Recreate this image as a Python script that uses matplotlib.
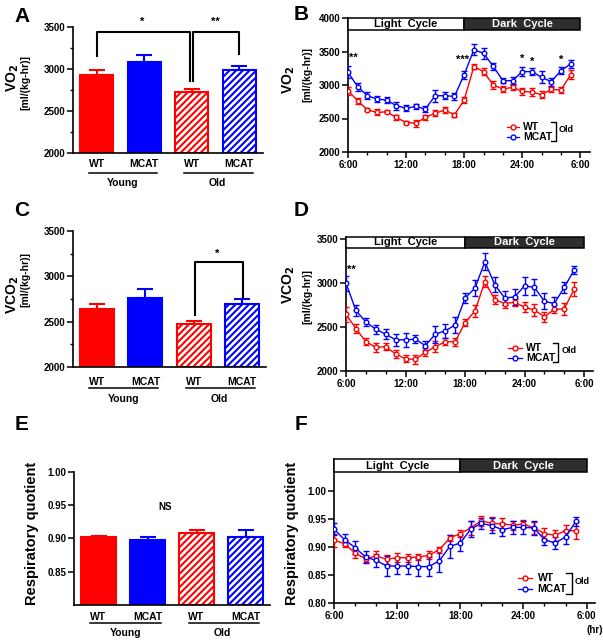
import matplotlib
matplotlib.use("Agg")
import matplotlib.pyplot as plt
from matplotlib.patches import Rectangle
from matplotlib.lines import Line2D
from matplotlib.transforms import offset_copy
from matplotlib.ticker import MultipleLocator

plt.rcParams['font.family'] = ['Liberation Sans', 'DejaVu Sans']
plt.rcParams['font.weight'] = 'bold'
plt.rcParams['hatch.linewidth'] = 1.5
plt.rcParams['axes.linewidth'] = 1.2

RED = '#ff0000'
BLUE = '#0000ff'

# bar panels
groups = ['WT', 'MCAT', 'WT', 'MCAT']
ages = ['Young', 'Old']
vo2_mean = [2928, 3080, 2730, 2988]
vo2_err = [56, 87, 27, 48]
vco2_mean = [2640, 2766, 2478, 2700]
vco2_err = [54, 97, 30, 55]
rq_mean = [0.902, 0.897, 0.908, 0.903]
rq_err = [0.002, 0.006, 0.005, 0.010]

# time course panels (hour of day, 6:00 -> 5:00 next day)
hours = [6, 7, 8, 9, 10, 11, 12, 13, 14, 15, 16, 17,
         18, 19, 20, 21, 22, 23, 24, 25, 26, 27, 28, 29]
hour_ticks = [6, 12, 18, 24, 30]
hour_labels = ['6:00', '12:00', '18:00', '24:00', '6:00']

vo2_wt = [2915, 2765, 2630, 2590, 2600, 2515, 2440, 2430, 2515, 2580, 2625, 2555,
          2775, 3275, 3200, 3000, 2940, 2965, 2905, 2895, 2855, 2935, 2925, 3155]
vo2_wt_err = [60, 45, 25, 45, 25, 35, 25, 50, 35, 40, 40, 30,
              40, 40, 50, 60, 45, 35, 50, 55, 50, 40, 50, 70]
vo2_mcat = [3190, 2975, 2840, 2790, 2775, 2690, 2655, 2680, 2640, 2840, 2840, 2830,
            3155, 3525, 3475, 3280, 3065, 3065, 3200, 3200, 3115, 3050, 3215, 3315]
vo2_mcat_err = [90, 60, 50, 45, 40, 60, 50, 35, 40, 90, 55, 50,
                60, 80, 80, 50, 40, 50, 70, 50, 90, 60, 50, 60]

vco2_wt = [2642, 2481, 2332, 2269, 2276, 2194, 2138, 2131, 2213, 2276, 2332, 2332,
           2549, 2679, 3015, 2810, 2765, 2780, 2724, 2690, 2616, 2698, 2705, 2929]
vco2_wt_err = [85, 55, 40, 50, 40, 45, 40, 55, 45, 60, 40, 45,
               40, 70, 60, 50, 50, 40, 60, 65, 55, 45, 70, 80]
vco2_mcat = [2996, 2687, 2556, 2474, 2418, 2354, 2354, 2362, 2287, 2418, 2455, 2522,
             2828, 2940, 3239, 2978, 2828, 2840, 2966, 2948, 2791, 2765, 2948, 3146]
vco2_mcat_err = [85, 60, 50, 50, 55, 70, 80, 50, 50, 95, 80, 90,
                 60, 90, 95, 85, 85, 90, 100, 90, 90, 70, 60, 50]

rq_wt = [0.912, 0.906, 0.889, 0.879, 0.884, 0.878, 0.881, 0.881, 0.882, 0.885, 0.895, 0.916,
         0.924, 0.934, 0.947, 0.942, 0.941, 0.939, 0.941, 0.934, 0.924, 0.921, 0.929, 0.929]
rq_wt_err = [0.012, 0.006, 0.008, 0.006, 0.008, 0.008, 0.008, 0.007, 0.006, 0.007, 0.005, 0.006,
             0.007, 0.012, 0.009, 0.012, 0.010, 0.008, 0.007, 0.010, 0.010, 0.010, 0.011, 0.015]
rq_mcat = [0.932, 0.913, 0.899, 0.882, 0.876, 0.866, 0.866, 0.866, 0.865, 0.865, 0.875, 0.901,
           0.907, 0.932, 0.942, 0.938, 0.931, 0.935, 0.935, 0.934, 0.913, 0.907, 0.918, 0.946]
rq_mcat_err = [0.010, 0.010, 0.012, 0.010, 0.012, 0.017, 0.015, 0.014, 0.016, 0.017, 0.020, 0.020,
               0.015, 0.015, 0.010, 0.013, 0.012, 0.011, 0.012, 0.013, 0.010, 0.010, 0.012, 0.008]

W, H = 603, 644
fig = plt.figure(figsize=(W / 100, H / 100), dpi=100)


def px_axes(l, t, r, b):
    return fig.add_axes([l / W, 1 - b / H, (r - l) / W, (b - t) / H])


def ftext(x, y, s, **kw):
    fig.text(x / W, 1 - y / H, s, **kw)


def style(ax):
    ax.spines['top'].set_visible(False)
    ax.spines['right'].set_visible(False)
    ax.tick_params(direction='out', length=4, width=1.1, labelsize=7, pad=1.5)
    ax.tick_params(which='minor', direction='out', length=2.5, width=1.0)


def bar_panel(ax, mean, err, ylim, yticks, label_off):
    x = [0, 1, 2, 3]
    colors = [RED, BLUE, RED, BLUE]
    for i in x:
        old = i >= 2
        ax.bar(x[i], mean[i] - ylim[0], bottom=ylim[0], width=0.7,
               color='white' if old else colors[i], edgecolor=colors[i],
               hatch='/////' if old else None, linewidth=1.5, zorder=2)
        ax.errorbar(x[i], mean[i], yerr=[[0], [err[i]]], color=colors[i],
                    capsize=6, capthick=1.5, elinewidth=1.5, zorder=1)
    ax.set_xlim(-0.5, 3.5)
    ax.set_ylim(*ylim)
    ax.set_yticks(yticks)
    ax.set_xticks([])
    style(ax)
    d1, d2, d3 = label_off
    tr = ax.get_xaxis_transform()
    for i in x:
        ax.annotate(groups[i], xy=(x[i], 0), xycoords=tr, xytext=(0, -d1 * 0.72),
                    textcoords='offset points', ha='center', va='center', fontsize=7.5)
    line_tr = offset_copy(tr, fig=fig, y=-d2 * 0.72, units='points')
    ax.plot([-0.17, 1.27], [0, 0], color='black', lw=1.1, transform=line_tr, clip_on=False)
    ax.plot([1.84, 3.28], [0, 0], color='black', lw=1.1, transform=line_tr, clip_on=False)
    ax.annotate(ages[0], xy=(0.55, 0), xycoords=tr, xytext=(0, -d3 * 0.72),
                textcoords='offset points', ha='center', va='center', fontsize=7.5)
    ax.annotate(ages[1], xy=(2.53, 0), xycoords=tr, xytext=(0, -d3 * 0.72),
                textcoords='offset points', ha='center', va='center', fontsize=7.5)


def time_panel(ax, wt, wt_err, mcat, mcat_err, ylim, yticks, ytl, band, xmax):
    ax.errorbar(hours, wt, yerr=wt_err, color=RED, lw=1.0, marker='o', ms=3.3,
                mfc='white', mec=RED, mew=1.0, capsize=2, elinewidth=1.0, zorder=3)
    ax.errorbar(hours, mcat, yerr=mcat_err, color=BLUE, lw=1.0, marker='o', ms=3.3,
                mfc='white', mec=BLUE, mew=1.0, capsize=2, elinewidth=1.0, zorder=3)
    ax.set_xlim(6, xmax)
    ax.set_ylim(*ylim)
    ax.set_xticks(hour_ticks)
    ax.set_xticklabels(hour_labels)
    ax.xaxis.set_minor_locator(MultipleLocator(2))
    ax.set_yticks(yticks)
    ax.set_yticklabels(ytl)
    style(ax)
    lo, hi = band
    ax.add_patch(Rectangle((6, lo), 12, hi - lo, facecolor='white', edgecolor='black',
                           lw=1.1, clip_on=False, zorder=4))
    ax.add_patch(Rectangle((18, lo), 12, hi - lo, facecolor='#2e2e2e', edgecolor='black',
                           lw=1.1, clip_on=False, zorder=4))
    ym = (lo + hi) / 2
    ax.text(12, ym, 'Light  Cycle', ha='center', va='center', fontsize=8, zorder=5)
    ax.text(24, ym, 'Dark  Cycle', ha='center', va='center', fontsize=8,
            color='white', zorder=5)


def legend(ax, x0, x1, xt, xb, yw, ym):
    for y, c, s in [(yw, RED, 'WT'), (ym, BLUE, 'MCAT')]:
        ax.add_line(Line2D([x0, (x0 + x1) / 2, x1], [y, y, y], color=c, lw=0.9,
                           marker='o', ms=3.5, markevery=[1], mfc='white', mec=c,
                           transform=ax.transAxes))
        ax.text(xt, y, s, transform=ax.transAxes, ha='left', va='center', fontsize=7.5)
    pad = 0.035
    ax.plot([xb - 0.02, xb, xb, xb - 0.02], [yw + pad, yw + pad, ym - pad, ym - pad],
            color='black', lw=1.0, transform=ax.transAxes, clip_on=False)
    ax.text(xb + 0.012, (yw + ym) / 2 + 0.015, 'Old', transform=ax.transAxes,
            ha='left', va='center', fontsize=6.5)


# ---- A ----
axA = px_axes(73, 27, 263, 153)
bar_panel(axA, vo2_mean, vo2_err, (2000, 3500), [2000, 2500, 3000, 3500], (11, 20, 30))
axA.yaxis.set_minor_locator(MultipleLocator(250))
axA.plot([0, 0, 1.97, 1.97], [3150, 3440, 3440, 2860], color='black', lw=1.5, clip_on=False)
axA.plot([2.03, 2.03, 3.0, 3.0], [2860, 3440, 3440, 3180], color='black', lw=1.5, clip_on=False)
axA.text(0.96, 3500, '*', ha='center', va='bottom', fontsize=8, clip_on=False)
axA.text(2.5, 3500, '**', ha='center', va='bottom', fontsize=8, clip_on=False)

# ---- C ----
axC = px_axes(73, 231, 266, 367)
bar_panel(axC, vco2_mean, vco2_err, (2000, 3500), [2000, 2500, 3000, 3500], (15, 21, 32))
axC.yaxis.set_minor_locator(MultipleLocator(250))
axC.plot([2.03, 2.03, 3.02, 3.02], [2570, 3157, 3157, 2775], color='black', lw=1.5)
axC.text(2.48, 3190, '*', ha='center', va='bottom', fontsize=8)

# ---- E ----
axE = px_axes(74, 472, 270, 605)
bar_panel(axE, rq_mean, rq_err, (0.80, 1.00), [0.85, 0.90, 0.95, 1.00], (12, 18, 28))
axE.set_yticklabels(['0.85', '0.90', '0.95', '1.00'])
axE.text(1.35, 0.948, 'NS', ha='center', va='center', fontsize=7)

# ---- B ----
axB = px_axes(348, 18, 590, 152)
time_panel(axB, vo2_wt, vo2_wt_err, vo2_mcat, vo2_mcat_err, (2000, 4000),
           [2000, 2500, 3000, 3500, 4000], ['2000', '2500', '3000', '3500', '4000'],
           (3825, 4000), 31.0)
for xs, ys, s in [(6.6, 3400, '**'), (17.8, 3370, '***'), (24, 3385, '*'),
                  (25, 3350, '*'), (28, 3375, '*')]:
    axB.text(xs, ys, s, ha='center', va='center', fontsize=8)
legend(axB, 0.655, 0.705, 0.725, 0.86, 0.19, 0.115)

# ---- D ----
axD = px_axes(346, 237, 593, 371)
time_panel(axD, vco2_wt, vco2_wt_err, vco2_mcat, vco2_mcat_err, (2000, 3520),
           [2000, 2500, 3000, 3500], ['2000', '2500', '3000', '3500'],
           (3400, 3520), 30.9)
axD.text(6.5, 3150, '**', ha='center', va='center', fontsize=8)
legend(axD, 0.656, 0.713, 0.73, 0.86, 0.175, 0.1)

# ---- F ----
axF = px_axes(334, 459, 595, 603)
time_panel(axF, rq_wt, rq_wt_err, rq_mcat, rq_mcat_err, (0.80, 1.057),
           [0.80, 0.85, 0.90, 0.95, 1.00], ['0.80', '0.85', '0.90', '0.95', '1.00'],
           (1.033, 1.057), 30.8)
legend(axF, 0.705, 0.759, 0.78, 0.91, 0.175, 0.1)
axF.text(1.0, -0.19, '(hr)', transform=axF.transAxes, ha='center', va='center', fontsize=7)

# ---- axis labels ----
lab_kw = dict(rotation=90, ha='center', va='center')
ftext(13, 78, 'VO$_\\mathbf{2}$', fontsize=10, **lab_kw)
ftext(25, 82, '[ml/(kg-hr)]', fontsize=7.5, **lab_kw)
ftext(289, 80, 'VO$_\\mathbf{2}$', fontsize=10, **lab_kw)
ftext(307, 75, '[ml/(kg-hr)]', fontsize=7.5, **lab_kw)
ftext(13, 295, 'VCO$_\\mathbf{2}$', fontsize=10, **lab_kw)
ftext(25, 280, '[ml/(kg-hr)]', fontsize=7.5, **lab_kw)
ftext(289, 285, 'VCO$_\\mathbf{2}$', fontsize=10, **lab_kw)
ftext(307, 296, '[ml/(kg-hr)]', fontsize=7.5, **lab_kw)
ftext(32, 533, 'Respiratory quotient', fontsize=10.5, **lab_kw)
ftext(292, 533, 'Respiratory quotient', fontsize=10.5, **lab_kw)

# ---- panel letters ----
for x, y, s in [(22, 16, 'A'), (301, 15, 'B'), (22, 210, 'C'),
                (301, 211, 'D'), (22, 424, 'E'), (301, 424, 'F')]:
    ftext(x, y, s, fontsize=15, ha='center', va='center')

fig.savefig('out.png', dpi=100)
